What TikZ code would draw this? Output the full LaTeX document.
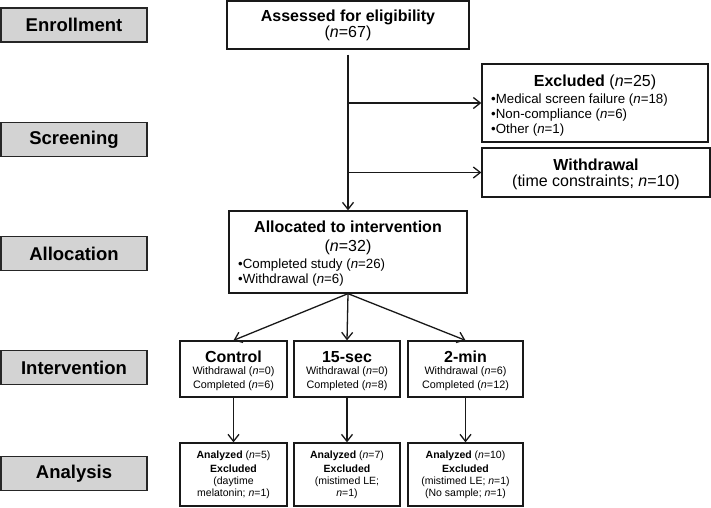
\documentclass[tikz,border=0pt]{standalone}
\usepackage{fontspec}
\setmainfont{Liberation Sans}
\usetikzlibrary{arrows.meta}
\definecolor{stagegray}{RGB}{211,211,211}
\newcommand{\nn}{\textit{n}}
\tikzset{
  stage/.style={draw=black!85, fill=stagegray, line width=1.4pt, minimum width=146pt, minimum height=34pt, inner sep=0pt, font=\fontsize{18.5}{20}\selectfont\bfseries},
  flowbox/.style={draw=black!90, line width=1.3pt, inner sep=0pt},
  big/.style={inner sep=0pt, font=\fontsize{16}{18}\selectfont},
  mid/.style={inner sep=0pt, font=\fontsize{13.3}{15}\selectfont},
  small/.style={inner sep=0pt, font=\fontsize{10.8}{12}\selectfont},
  tiny/.style={inner sep=0pt, font=\fontsize{10.5}{12}\selectfont},
  arr/.style={-{Straight Barb[length=7pt,width=11pt]}, line width=1.3pt, draw=black!90}
}
\begin{document}
\begin{tikzpicture}[x=1pt,y=-1pt]
\useasboundingbox (0,0) rectangle (711,507);
% stage labels
\node[stage] (enr) at (74,25) {Enrollment};
\node[stage] (scr) at (74,139.5) {Screening};
\node[stage] (alc) at (74,253.5) {Allocation};
\node[stage] (itv) at (74,367.5) {Intervention};
\node[stage] (ana) at (74,473.5) {Analysis};
% assessed
\node[flowbox, minimum width=242pt, minimum height=48pt] (assess) at (348,25) {};
\node[big] (assessA) at (348,17.5) {\bfseries Assessed for eligibility};
\node[big] (assessB) at (348,33.5) {(\nn=67)};
% excluded
\node[flowbox, minimum width=226pt, minimum height=78pt] (excl) at (595,103) {};
\node[big] (exclA) at (595,82) {\textbf{Excluded} (\nn=25)};
\node[mid, anchor=west] (exclB) at (491,100) {•Medical screen failure (\nn=18)};
\node[mid, anchor=west] (exclC) at (491,115) {•Non-compliance (\nn=6)};
\node[mid, anchor=west] (exclD) at (491,130) {•Other (\nn=1)};
% withdrawal
\node[flowbox, minimum width=228pt, minimum height=49pt] (wdr) at (596,172.5) {};
\node[big] (wdrA) at (596,164.5) {\bfseries Withdrawal};
\node[big] (wdrB) at (596,182.5) {(time constraints; \nn=10)};
% allocated
\node[flowbox, minimum width=238pt, minimum height=82pt] (alloc) at (348,252) {};
\node[big] (allocA) at (348,227) {\bfseries Allocated to intervention};
\node[big] (allocB) at (348,247) {(\nn=32)};
\node[mid, anchor=west] (allocC) at (238,265) {•Completed study (\nn=26)};
\node[mid, anchor=west] (allocD) at (238,280.5) {•Withdrawal (\nn=6)};
% intervention groups
\node[flowbox, minimum width=107pt, minimum height=56pt] (ctl) at (233.5,369) {};
\node[big] (ctlA) at (233.5,357) {\bfseries Control};
\node[small] (ctlB) at (233.5,372) {Withdrawal (\nn=0)};
\node[small] (ctlC) at (233.5,386) {Completed (\nn=6)};
\node[flowbox, minimum width=106pt, minimum height=56pt] (sec) at (347,369) {};
\node[big] (secA) at (347,357) {\bfseries 15-sec};
\node[small] (secB) at (347,372) {Withdrawal (\nn=0)};
\node[small] (secC) at (347,386) {Completed (\nn=8)};
\node[flowbox, minimum width=115pt, minimum height=56pt] (mn) at (465.5,369) {};
\node[big] (mnA) at (465.5,357) {\bfseries 2-min};
\node[small] (mnB) at (465.5,372) {Withdrawal (\nn=6)};
\node[small] (mnC) at (465.5,386) {Completed (\nn=12)};
% analysis groups
\node[flowbox, minimum width=107pt, minimum height=63pt] (actl) at (233.5,474.5) {};
\node[tiny] (actlA) at (233.5,456) {\textbf{Analyzed} (\nn=5)};
\node[tiny] (actlB) at (233.5,468.5) {\bfseries Excluded};
\node[tiny] (actlC) at (233.5,481.5) {(daytime};
\node[tiny] (actlD) at (233.5,494) {melatonin; \nn=1)};
\node[flowbox, minimum width=106pt, minimum height=63pt] (asec) at (347,474.5) {};
\node[tiny] (asecA) at (347,456) {\textbf{Analyzed} (\nn=7)};
\node[tiny] (asecB) at (347,468.5) {\bfseries Excluded};
\node[tiny] (asecC) at (347,481.5) {(mistimed LE;};
\node[tiny] (asecD) at (347,494) {\nn=1)};
\node[flowbox, minimum width=115pt, minimum height=63pt] (amn) at (465.5,474.5) {};
\node[tiny] (amnA) at (465.5,456) {\textbf{Analyzed} (\nn=10)};
\node[tiny] (amnB) at (465.5,468.5) {\bfseries Excluded};
\node[tiny] (amnC) at (465.5,481.5) {(mistimed LE; \nn=1)};
\node[tiny] (amnD) at (465.5,494) {(No sample; \nn=1)};
% connectors
\draw[arr, shorten <=5pt] (assess.south) -- (alloc.north);
\draw[arr] (assess.south |- excl.west) -- (excl.west);
\draw[arr] (assess.south |- wdr.west) -- (wdr.west);
\draw[arr] (alloc.south) -- (ctl.north);
\draw[arr] (alloc.south) -- (sec.north);
\draw[arr] (alloc.south) -- (mn.north);
\draw[arr] (ctl.south) -- (actl.north);
\draw[arr] (sec.south) -- (asec.north);
\draw[arr] (mn.south) -- (amn.north);
\end{tikzpicture}
\end{document}
